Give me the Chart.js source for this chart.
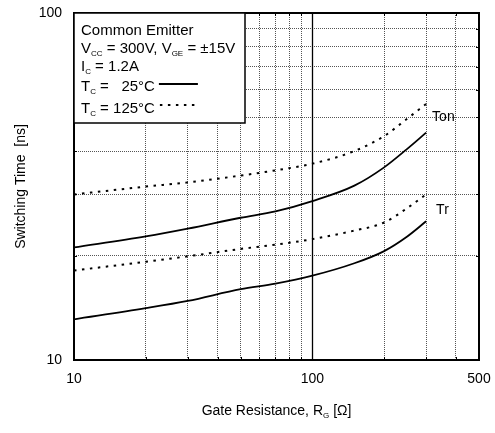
<!DOCTYPE html>
<html lang="en">
<head>
<meta charset="UTF-8">
<title>Switching Time vs. Gate Resistance</title>
<script src="https://cdn.jsdelivr.net/npm/chart.js"></script>
<style>
    * { margin: 0; padding: 0; box-sizing: border-box; }
    body { background: #fff; }
    .chart-box { position: relative; width: 495px; height: 433px; }
</style>
</head>
<body>
<div class="chart-box"><canvas id="timeChart"></canvas></div>
<script>
    // gate resistance (ohm) and switching times (ns)
    const rg = [10, 20, 30, 50, 70, 100, 150, 200, 250, 300];
    const ton25 = [21.1, 22.7, 23.9, 25.7, 26.8, 28.7, 31.8, 35.9, 40.6, 45.2];
    const tr25 = [13.1, 14.1, 14.8, 16.0, 16.6, 17.5, 19.0, 20.6, 22.7, 25.1];
    const ton125 = [30.0, 31.6, 32.5, 34.0, 35.2, 36.8, 40.0, 44.2, 49.6, 54.7];
    const tr125 = [18.1, 19.2, 19.9, 20.9, 21.5, 22.3, 23.6, 24.9, 27.4, 30.0];

    // grid lines and the few values that get a label
    const xGridVals = [10, 20, 30, 40, 50, 60, 70, 80, 90, 100, 200, 300, 400, 500];
    const xTickLabels = [10, 100, 500];
    const yGridVals = [10, 20, 30, 40, 50, 60, 70, 80, 90, 100];
    const yTickLabels = [10, 100];

    const FONT = "'Liberation Sans', Arial, sans-serif";

    function toPoints(ys) {
        return rg.map((r, i) => ({ x: r, y: ys[i] }));
    }

    function lineSet(label, ys, dashed) {
        return {
            label: label,
            data: toPoints(ys),
            borderColor: '#000',
            borderWidth: dashed ? 2 : 1.8,
            borderDash: dashed ? [2.5, 5.5] : [],
            pointRadius: 0,
            fill: false,
            cubicInterpolationMode: 'monotone'
        };
    }

    // text with subscripts, parts = [{t, sub}]
    function drawRich(ctx, parts, x, y, size) {
        for (const p of parts) {
            ctx.font = p.sub ? '8px ' + FONT : size + 'px ' + FONT;
            ctx.fillText(p.t, x, p.sub ? y + 3 : y);
            x += ctx.measureText(p.t).width;
        }
        return x;
    }

    const decor = {
        id: 'decor',
        beforeDatasetsDraw(chart) {
            // solid line at 100 ohm
            const { ctx, chartArea: a, scales: { x } } = chart;
            const px = Math.round(x.getPixelForValue(100)) + 0.5;
            ctx.save();
            ctx.strokeStyle = '#000';
            ctx.lineWidth = 1.3;
            ctx.beginPath();
            ctx.moveTo(px, a.top);
            ctx.lineTo(px, a.bottom);
            ctx.stroke();
            ctx.restore();
        },
        afterDraw(chart) {
            const { ctx, chartArea: a, scales: { x, y } } = chart;
            ctx.save();

            // small inward ticks
            ctx.strokeStyle = '#000';
            ctx.lineWidth = 1;
            ctx.beginPath();
            xGridVals.forEach(v => {
                const px = Math.round(x.getPixelForValue(v)) + 0.5;
                ctx.moveTo(px, a.bottom); ctx.lineTo(px, a.bottom - 3);
                ctx.moveTo(px, a.top); ctx.lineTo(px, a.top + 3);
            });
            yGridVals.forEach(v => {
                const py = Math.round(y.getPixelForValue(v)) + 0.5;
                ctx.moveTo(a.left, py); ctx.lineTo(a.left + 3, py);
                ctx.moveTo(a.right, py); ctx.lineTo(a.right - 3, py);
            });
            ctx.stroke();

            // frame
            ctx.lineWidth = 2;
            ctx.strokeRect(a.left, a.top, a.right - a.left, a.bottom - a.top);

            // curve names
            ctx.fillStyle = '#000';
            ctx.font = '14px ' + FONT;
            ctx.textBaseline = 'middle';
            const last = rg.length - 1;
            const lx = x.getPixelForValue(rg[last]) + 6;
            const tonY = (y.getPixelForValue(ton25[last]) + y.getPixelForValue(ton125[last])) / 2;
            const trY = (y.getPixelForValue(tr25[last]) + y.getPixelForValue(tr125[last])) / 2;
            ctx.fillText('Ton', lx, tonY - 1);
            ctx.fillText('Tr', lx + 4, trY + 2);

            // legend box
            const bx = a.left, by = a.top, bw = 171, bh = 110;
            ctx.fillStyle = '#fff';
            ctx.fillRect(bx, by, bw, bh);
            ctx.lineWidth = 1.5;
            ctx.strokeRect(bx, by, bw, bh);
            ctx.fillStyle = '#000';
            ctx.textBaseline = 'alphabetic';
            const tx = bx + 7;
            drawRich(ctx, [{ t: 'Common Emitter' }], tx, by + 22, 15);
            drawRich(ctx, [{ t: 'V' }, { t: 'CC', sub: true }, { t: ' = 300V, V' }, { t: 'GE', sub: true }, { t: ' = ±15V' }], tx, by + 40, 15);
            drawRich(ctx, [{ t: 'I' }, { t: 'C', sub: true }, { t: ' = 1.2A' }], tx, by + 58, 15);
            drawRich(ctx, [{ t: 'T' }, { t: 'C', sub: true }, { t: ' = ' }], tx, by + 78, 15);
            const endX = drawRich(ctx, [{ t: 'T' }, { t: 'C', sub: true }, { t: ' = 125°C' }], tx, by + 100, 15);
            ctx.font = '15px ' + FONT;
            ctx.textAlign = 'right';
            ctx.fillText('25°C', endX, by + 78);
            ctx.textAlign = 'left';

            ctx.lineWidth = 1.8;
            ctx.beginPath();
            ctx.moveTo(endX + 4, by + 71);
            ctx.lineTo(endX + 43, by + 71);
            ctx.stroke();
            ctx.lineWidth = 2;
            ctx.setLineDash([2.5, 5.5]);
            ctx.beginPath();
            ctx.moveTo(endX + 5, by + 92);
            ctx.lineTo(endX + 43, by + 92);
            ctx.stroke();
            ctx.setLineDash([]);

            // x axis title with subscript
            const title = [{ t: 'Gate Resistance, R' }, { t: 'G', sub: true }, { t: ' [Ω]' }];
            let w = 0;
            title.forEach(p => {
                ctx.font = p.sub ? '8px ' + FONT : '14px ' + FONT;
                w += ctx.measureText(p.t).width;
            });
            drawRich(ctx, title, (a.left + a.right) / 2 - w / 2, 415, 14);

            ctx.restore();
        }
    };

    const ctx = document.getElementById('timeChart').getContext('2d');
    const timeChart = new Chart(ctx, {
        type: 'line',
        data: {
            datasets: [
                lineSet('Ton 25°C', ton25, false),
                lineSet('Tr 25°C', tr25, false),
                lineSet('Ton 125°C', ton125, true),
                lineSet('Tr 125°C', tr125, true)
            ]
        },
        options: {
            responsive: true,
            maintainAspectRatio: false,
            animation: false,
            devicePixelRatio: 1,
            layout: { padding: { top: 13, right: 16, left: 0, bottom: 0 } },
            plugins: {
                legend: { display: false },
                tooltip: { enabled: false }
            },
            scales: {
                x: {
                    type: 'logarithmic',
                    position: 'bottom',
                    min: 10,
                    max: 500,
                    afterBuildTicks: s => { s.ticks = xGridVals.map(v => ({ value: v })); },
                    afterFit: s => {
                        s.height = 73;
                        s.paddingLeft = 0;
                        s.paddingRight = 0;
                    },
                    ticks: {
                        autoSkip: false,
                        maxRotation: 0,
                        padding: 11,
                        color: '#000',
                        font: { family: FONT, size: 14 },
                        callback: v => xTickLabels.includes(v) ? String(v) : ''
                    },
                    grid: { color: '#555', lineWidth: 1, drawTicks: false },
                    border: { display: false, dash: [1, 1] }
                },
                y: {
                    type: 'logarithmic',
                    min: 10,
                    max: 100,
                    afterBuildTicks: s => { s.ticks = yGridVals.map(v => ({ value: v })); },
                    afterFit: s => {
                        s.width = 74;
                        s.paddingTop = 0;
                        s.paddingBottom = 0;
                    },
                    ticks: {
                        autoSkip: false,
                        padding: 12,
                        color: '#000',
                        font: { family: FONT, size: 14 },
                        callback: v => yTickLabels.includes(v) ? String(v) : ''
                    },
                    title: {
                        display: true,
                        text: 'Switching Time  [ns]',
                        color: '#000',
                        font: { family: FONT, size: 14 },
                        padding: { top: 13, bottom: 0 }
                    },
                    grid: { color: '#555', lineWidth: 1, drawTicks: false },
                    border: { display: false, dash: [1, 1] }
                }
            }
        },
        plugins: [decor]
    });
</script>
</body>
</html>
